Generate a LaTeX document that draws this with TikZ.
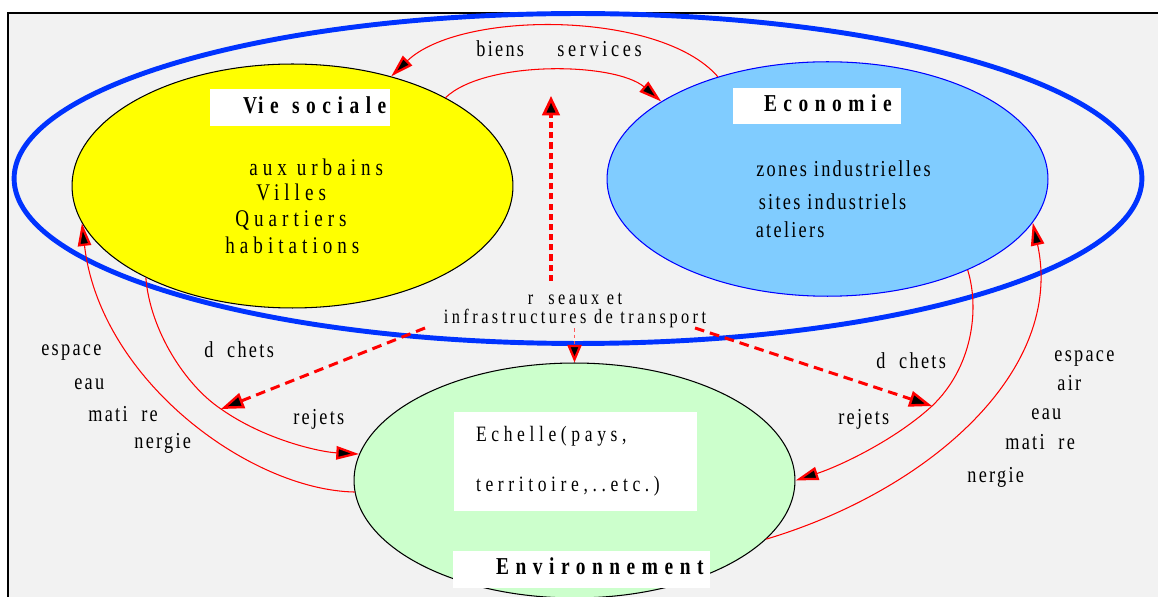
\documentclass[tikz,border=0pt]{standalone}
\usepackage{fontspec}
\setmainfont{Liberation Serif}[FakeStretch=0.8]
\usetikzlibrary{shapes.geometric,arrows.meta}
\definecolor{ringblue}{RGB}{0,51,255}
\definecolor{bgray}{RGB}{242,242,242}
\definecolor{vyellow}{RGB}{255,255,0}
\definecolor{ltblue}{RGB}{128,204,255}
\definecolor{ltgreen}{RGB}{204,255,204}
\definecolor{pinkred}{RGB}{255,90,90}
\begin{document}
\begin{tikzpicture}[x=0.02cm,y=-0.02cm,
  bubble/.style={ellipse,inner sep=0pt,minimum width=8.82cm,line width=0.6pt},
  lbl/.style={inner sep=0pt,anchor=mid west,font=\fontsize{13}{15}\selectfont\addfontfeatures{LetterSpace=10}},
  widelbl/.style={lbl,font=\fontsize{13}{15}\selectfont\addfontfeatures{LetterSpace=16}},
  vstxt/.style={lbl,font=\fontsize{13.6}{16}\selectfont\addfontfeatures{LetterSpace=21}},
  ectxt/.style={lbl,font=\fontsize{13}{15}\selectfont\addfontfeatures{LetterSpace=10}},
  midtxt/.style={inner sep=0pt,align=center,font=\fontsize{11.6}{11}\selectfont\addfontfeatures{LetterSpace=17}},
  titlebox/.style={fill=white,inner sep=0pt,align=left,font=\bfseries\fontsize{13.8}{16}\selectfont\addfontfeatures{LetterSpace=27}},
  echbox/.style={fill=white,inner sep=0pt,align=left,text width=4.86cm,minimum height=1.98cm,font=\fontsize{12.5}{15}\selectfont\addfontfeatures{LetterSpace=21}},
  flow/.style={red,line width=0.6pt,-{Triangle[length=13pt,width=7.5pt,fill=black,line width=1.3pt]}},
  bigdash/.style={red,line width=2.8pt,dash pattern=on 3.5pt off 2.3pt,-{Triangle[length=11pt,width=10pt,fill=black,line width=1.6pt]}},
  diagdash/.style={red,line width=1.7pt,dash pattern=on 5.5pt off 3.4pt,-{Triangle[length=13pt,width=9pt,fill=black,line width=1.4pt]}},
  thindash/.style={pinkred,line width=0.8pt,dash pattern=on 2pt off 1.5pt,-{Triangle[length=10pt,width=8pt,fill=black,color=red,line width=1.3pt]}}
]
\useasboundingbox (0,0) rectangle (1158,597);
\fill[white] (0,0) rectangle (1158,597);
\fill[bgray] (8,13) rectangle (1160,600);
\draw[line width=1.2pt] (8,600) -- (8,13) -- (1160,13);

% ellipses
\node[bubble,fill=vyellow,draw=black,minimum height=4.88cm] (vs) at (292.5,186) {};
\node[bubble,fill=ltblue,draw=blue,minimum height=4.69cm] (ec) at (827.5,179) {};
\node[bubble,fill=ltgreen,draw=black,minimum height=4.7cm] (env) at (574.5,480.5) {};
\node[ellipse,draw=ringblue,line width=2.8pt,inner sep=0pt,minimum width=22.56cm,minimum height=6.6cm] (ring) at (578,178.5) {};

% title boxes
\node[titlebox,text width=3.6cm,text height=0.486cm,text depth=0.254cm] (vst) at (300,107.5) {\hspace*{0.66cm}\mbox{V\kern0.05em ie\kern0.55em sociale}};
\node[titlebox,text width=3.36cm,text height=0.474cm,text depth=0.246cm] (ect) at (817,106) {\hspace*{0.62cm}\mbox{Economie}};
\node[titlebox,text width=5.14cm,text height=0.46cm,text depth=0.28cm] (envt) at (581.5,569.5) {\hspace*{0.86cm}\mbox{Environnement}};
\node[echbox] (ech) at (575.5,461.5) {\hspace*{0.44cm}Echelle(pays,\\[13.7pt]\hspace*{0.44cm}territoire,..etc.)};

% texts inside
\node[vstxt] (t1) at (249,171) {aux urbains};
\node[vstxt] (t2) at (256,196.5) {Villes};
\node[vstxt] (t3) at (235,222.5) {Quartiers};
\node[vstxt] (t4) at (225,249.5) {habitations};
\node[ectxt] (e1) at (756,172) {zones industrielles};
\node[ectxt] (e2) at (758.5,205.5) {sites industriels};
\node[ectxt] (e3) at (755.5,233.5) {ateliers};

% labels
\node[lbl] (biens) at (476,52) {biens};
\node[widelbl] (serv) at (557,52) {services};
\node[midtxt] (rs) at (575,310.5) {r~~seaux et\\infrastructures de transport};
\node[lbl] (lesp) at (41,351) {espace};
\node[lbl] (leau) at (74,385) {eau};
\node[lbl] (lmat) at (88,417) {mati~~re};
\node[lbl] (lner) at (134,444) {nergie};
\node[lbl] (ldec) at (204,353) {d~~chets};
\node[lbl] (lrej) at (293,420) {rejets};
\node[lbl] (rdec) at (876,364) {d~~chets};
\node[lbl] (rrej) at (838,420) {rejets};
\node[lbl] (resp) at (1054,357) {espace};
\node[lbl] (rair) at (1057,386) {air};
\node[lbl] (reau) at (1031,415) {eau};
\node[lbl] (rmat) at (1005,445) {mati~~re};
\node[lbl] (rner) at (967,478) {nergie};

% connectors
\coordinate (upS) at (551,281);
\coordinate (upE) at (551,96);
\coordinate (dl) at (425,328);
\coordinate (dr) at (695,328);
\coordinate (jl) at (221,409);
\coordinate (jr) at (932,406);

\draw[flow] (ec.137) .. controls (660,10) and (460,10) .. (vs.48);
\draw[flow] (vs.30) .. controls (485,60) and (615,62) .. (ec.155);
\draw[bigdash] (upS) -- (upE);
\draw[thindash] (rs.south -| env.north) -- (env.north);
\draw[diagdash] (dl) -- (jl);
\draw[diagdash] (dr) -- (jr);
\draw[flow] (vs.212) .. controls (150,330) and (185,385) .. (jl) .. controls (265,440) and (320,452) .. (env.173);
\draw[flow] (env.183) .. controls (250,490) and (100,380) .. (vs.190);
\draw[flow] (ec.-33) .. controls (980,310) and (972,368) .. (jr) .. controls (895,440) and (840,466) .. (env.0);
\draw[flow] (env.-17) .. controls (930,490) and (1065,370) .. (ec.-12);
\end{tikzpicture}
\end{document}
